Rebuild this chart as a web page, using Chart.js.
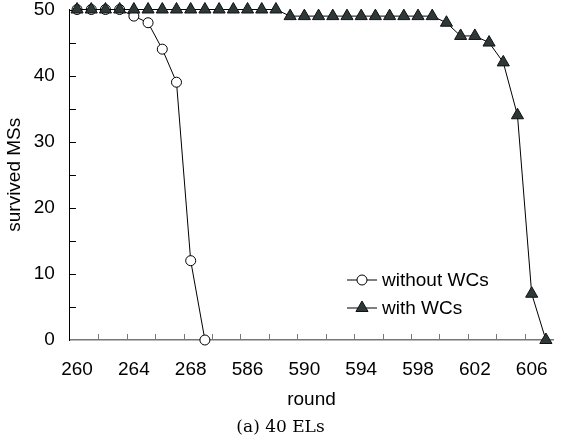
<!DOCTYPE html>
<html>
<head>
<meta charset="utf-8">
<script src="https://cdn.jsdelivr.net/npm/chart.js@4.4.1/dist/chart.umd.min.js"></script>
<style>
  html, body { margin: 0; padding: 0; background: #fff; }
  #wrap { width: 561px; height: 448px; }
</style>
</head>
<body>
<div id="wrap"><canvas id="myChart"></canvas></div>
<script>
// rounds on the x axis (two separate stretches)
const rounds = [260, 261, 262, 263, 264, 265, 266, 267, 268, 269,
  584, 585, 586, 587, 588, 589, 590, 591, 592, 593, 594, 595,
  596, 597, 598, 599, 600, 601, 602, 603, 604, 605, 606, 607];

const withoutWCs = [50, 50, 50, 50, 49, 48, 44, 39, 12, 0,
  null, null, null, null, null, null, null, null, null, null, null, null,
  null, null, null, null, null, null, null, null, null, null, null, null];

const withWCs = [50, 50, 50, 50, 50, 50, 50, 50, 50, 50,
  50, 50, 50, 50, 50, 49, 49, 49, 49, 49, 49, 49,
  49, 49, 49, 49, 48, 46, 46, 45, 42, 34, 7, 0];

const yTicks = [0, 10, 20, 30, 40, 50];

const sans = "'Liberation Sans', Arial, sans-serif";

// small inward tick marks on both axes
const axisMarks = {
  id: "axisMarks",
  beforeDatasetsDraw(chart) {
    const { ctx, chartArea, scales: { x, y } } = chart;
    ctx.save();
    ctx.lineWidth = 1;
    ctx.strokeStyle = "#000";
    ctx.beginPath();
    for (let v = 5; v <= 50; v += 5) {
      const py = Math.round(y.getPixelForValue(v)) + 0.5;
      ctx.moveTo(chartArea.left, py);
      ctx.lineTo(chartArea.left + 6, py);
    }
    ctx.stroke();
    ctx.strokeStyle = "#777";
    ctx.beginPath();
    for (let i = 2; i < rounds.length; i += 2) {
      const px = Math.round((x.getPixelForValue(i - 1) + x.getPixelForValue(i)) / 2) + 0.5;
      ctx.moveTo(px, chartArea.bottom);
      ctx.lineTo(px, chartArea.bottom - 6);
    }
    ctx.stroke();
    ctx.restore();
  },
};

// legend drawn inside the plot, lower right
const innerLegend = {
  id: "innerLegend",
  afterDatasetsDraw(chart) {
    const { ctx } = chart;
    const rows = [280, 308];
    ctx.save();
    chart.data.datasets.forEach((ds, i) => {
      const y = rows[i];
      ctx.strokeStyle = ds.borderColor;
      ctx.lineWidth = ds.borderWidth;
      ctx.beginPath();
      ctx.moveTo(347, y);
      ctx.lineTo(377, y);
      ctx.stroke();
      ctx.fillStyle = ds.pointBackgroundColor;
      ctx.strokeStyle = ds.pointBorderColor;
      ctx.lineWidth = 1;
      Chart.helpers.drawPoint(ctx, {
        pointStyle: ds.pointStyle,
        radius: ds.pointRadius,
        rotation: 0,
        borderWidth: 1,
      }, 362, y);
      ctx.fillStyle = "#000";
      ctx.font = "19px " + sans;
      ctx.textBaseline = "middle";
      ctx.textAlign = "left";
      ctx.fillText(ds.label, 382, y + 1);
    });
    ctx.restore();
  },
};

const ctx = document.getElementById("myChart").getContext("2d");

new Chart(ctx, {
  type: "line",
  data: {
    labels: rounds,
    datasets: [
      {
        label: "without WCs",
        data: withoutWCs,
        order: 1,
        borderColor: "#000",
        borderWidth: 1,
        pointStyle: "circle",
        pointRadius: 5,
        pointBackgroundColor: "#fff",
        pointBorderColor: "#000",
        pointBorderWidth: 1,
        spanGaps: false,
        clip: false,
      },
      {
        label: "with WCs",
        data: withWCs,
        order: 0,
        borderColor: "#000",
        borderWidth: 1,
        pointStyle: "triangle",
        pointRadius: 7,
        pointBackgroundColor: "#2f3838",
        pointBorderColor: "#111",
        pointBorderWidth: 1,
        clip: false,
      },
    ],
  },
  options: {
    responsive: true,
    maintainAspectRatio: false,
    animation: false,
    layout: { padding: 0 },
    scales: {
      x: {
        type: "category",
        offset: true,
        grid: { display: false, drawTicks: true, tickLength: 18 },
        border: { display: true, color: "#777", width: 1.5 },
        ticks: {
          autoSkip: false,
          maxRotation: 0,
          padding: 0,
          color: "#000",
          font: { family: sans, size: 19 },
          callback: (v, i) => (i % 4 === 0 ? String(rounds[i]) : ""),
        },
        title: {
          display: true,
          text: "round",
          color: "#000",
          font: { family: sans, size: 19 },
          padding: { top: 8, bottom: 6 },
        },
      },
      y: {
        min: 0,
        max: 50,
        afterBuildTicks: (scale) => {
          scale.ticks = yTicks.map((v) => ({ value: v }));
        },
        grid: { display: false, drawTicks: true, tickLength: 15 },
        border: { display: true, color: "#000", width: 1 },
        ticks: {
          padding: 0,
          color: "#000",
          font: { family: sans, size: 19, lineHeight: 1 },
        },
        title: {
          display: true,
          text: "survived MSs",
          color: "#000",
          font: { family: sans, size: 19 },
          padding: { top: 3, bottom: 8 },
        },
      },
    },
    plugins: {
      legend: { display: false },
      tooltip: { enabled: false },
      title: {
        display: true,
        position: "bottom",
        text: "(a) 40 ELs",
        color: "#000",
        font: { family: "'DejaVu Serif', serif", size: 17, weight: "normal" },
        padding: { top: 0, bottom: 10 },
      },
    },
  },
  plugins: [axisMarks, innerLegend],
});
</script>
</body>
</html>
